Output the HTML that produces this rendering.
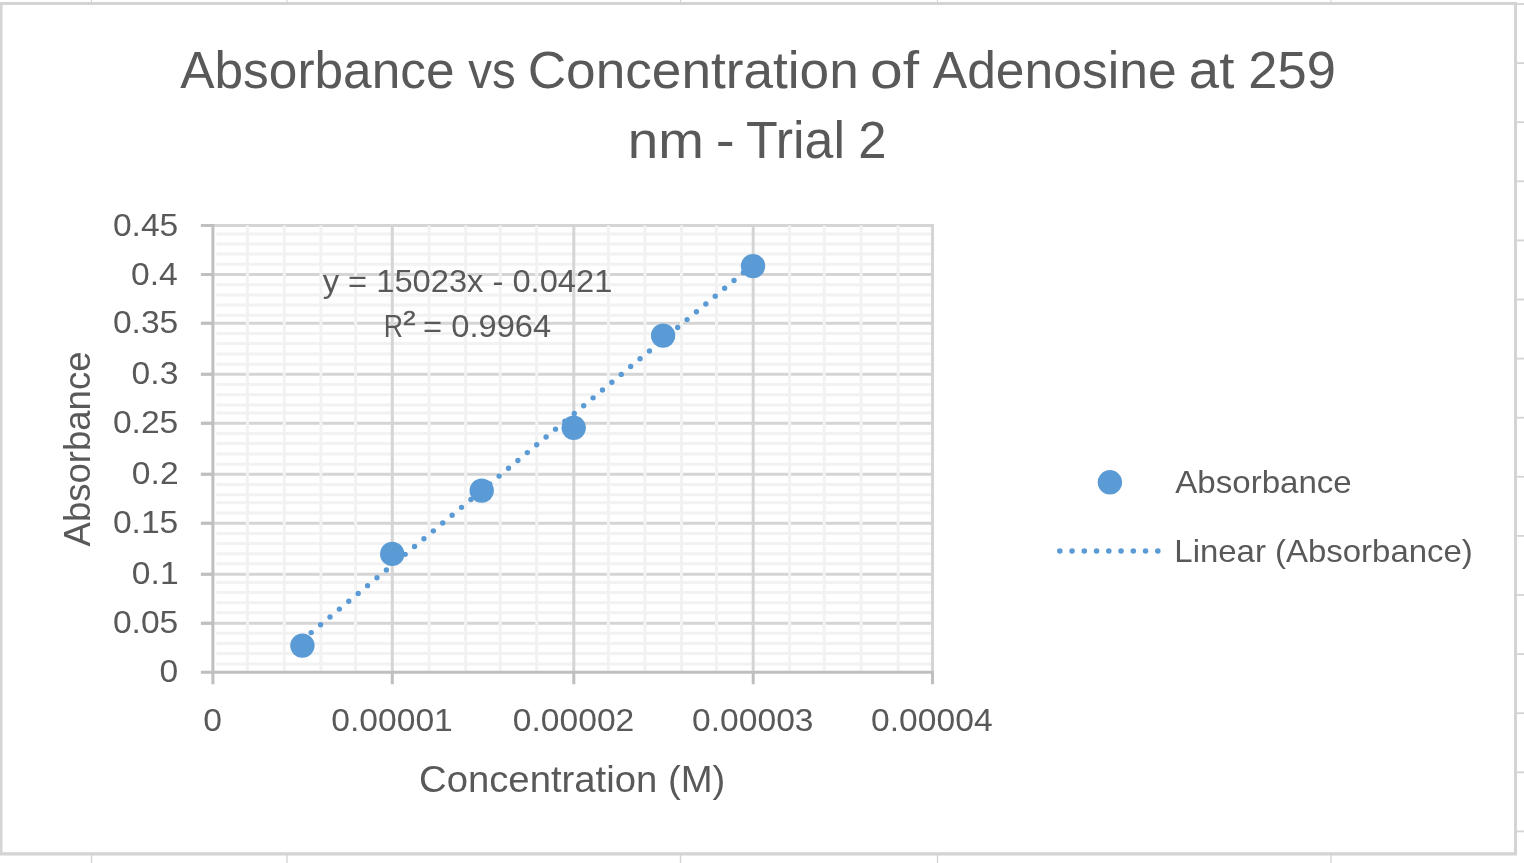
<!DOCTYPE html><html><head><meta charset="utf-8"><style>html,body{margin:0;padding:0;background:#fff;overflow:hidden}svg{display:block;will-change:transform}text{font-family:"Liberation Sans",sans-serif;fill:#595959}</style></head><body>
<svg width="1524" height="863" viewBox="0 0 1524 863">
<rect width="1524" height="863" fill="#fff"/>
<rect x="90.9" y="0" width="1.2" height="2" fill="#d4d4d4"/>
<rect x="90.8" y="855" width="1.4" height="8" fill="#d4d4d4"/>
<rect x="286.4" y="0" width="1.2" height="2" fill="#d4d4d4"/>
<rect x="286.3" y="855" width="1.4" height="8" fill="#d4d4d4"/>
<rect x="679.9" y="0" width="1.2" height="2" fill="#d4d4d4"/>
<rect x="679.8" y="855" width="1.4" height="8" fill="#d4d4d4"/>
<rect x="936.9" y="0" width="1.2" height="2" fill="#d4d4d4"/>
<rect x="936.8" y="855" width="1.4" height="8" fill="#d4d4d4"/>
<rect x="1330.4" y="0" width="1.2" height="2" fill="#d4d4d4"/>
<rect x="1330.3" y="855" width="1.4" height="8" fill="#d4d4d4"/>
<rect x="1517" y="3.1" width="7" height="1.8" fill="#d4d4d4"/>
<rect x="1517" y="62.2" width="7" height="1.8" fill="#d4d4d4"/>
<rect x="1517" y="121.3" width="7" height="1.8" fill="#d4d4d4"/>
<rect x="1517" y="180.4" width="7" height="1.8" fill="#d4d4d4"/>
<rect x="1517" y="239.5" width="7" height="1.8" fill="#d4d4d4"/>
<rect x="1517" y="298.6" width="7" height="1.8" fill="#d4d4d4"/>
<rect x="1517" y="357.7" width="7" height="1.8" fill="#d4d4d4"/>
<rect x="1517" y="416.8" width="7" height="1.8" fill="#d4d4d4"/>
<rect x="1517" y="475.9" width="7" height="1.8" fill="#d4d4d4"/>
<rect x="1517" y="535.0" width="7" height="1.8" fill="#d4d4d4"/>
<rect x="1517" y="594.1" width="7" height="1.8" fill="#d4d4d4"/>
<rect x="1517" y="653.2" width="7" height="1.8" fill="#d4d4d4"/>
<rect x="1517" y="712.3" width="7" height="1.8" fill="#d4d4d4"/>
<rect x="1517" y="771.4" width="7" height="1.8" fill="#d4d4d4"/>
<rect x="1517" y="830.5" width="7" height="1.8" fill="#d4d4d4"/>
<path d="M0 2H1517V855.5H0Z M2.5 5V852.2H1514V5Z" fill="#d4d4d4" fill-rule="evenodd"/>
<path d="M216.40 233.90H932.50M216.40 244.00H932.50M216.40 253.90H932.50M216.40 264.20H932.50M216.40 284.70H932.50M216.40 295.00H932.50M216.40 305.10H932.50M216.40 315.20H932.50M216.40 333.60H932.50M216.40 343.60H932.50M216.40 353.90H932.50M216.40 364.20H932.50M216.40 384.60H932.50M216.40 394.70H932.50M216.40 405.10H932.50M216.40 413.10H932.50M216.40 433.60H932.50M216.40 443.60H932.50M216.40 453.90H932.50M216.40 464.20H932.50M216.40 484.60H932.50M216.40 494.70H932.50M216.40 502.70H932.50M216.40 513.10H932.50M216.40 533.60H932.50M216.40 543.60H932.50M216.40 553.70H932.50M216.40 563.80H932.50M216.40 582.50H932.50M216.40 592.60H932.50M216.40 602.70H932.50M216.40 612.80H932.50M216.40 633.30H932.50M216.40 643.40H932.50M216.40 653.50H932.50M216.40 663.90H932.50" stroke="#f2f2f2" stroke-width="3" fill="none"/>
<path d="M200.90 623.30H934.00M200.90 574.30H934.00M200.90 523.20H934.00M200.90 474.30H934.00M200.90 423.30H934.00M200.90 374.30H934.00M200.90 323.30H934.00M200.90 274.55H934.00M200.90 225.40H934.00" stroke="#d5d5d5" stroke-width="3" fill="none"/>
<path d="M247.40 225.40V670.70M284.30 225.40V670.70M320.90 225.40V670.70M355.60 225.40V670.70M429.10 225.40V670.70M465.70 225.40V670.70M500.20 225.40V670.70M536.70 225.40V670.70M608.40 225.40V670.70M644.90 225.40V670.70M681.50 225.40V670.70M716.50 225.40V670.70M789.60 225.40V670.70M824.20 225.40V670.70M861.10 225.40V670.70M898.10 225.40V670.70" stroke="#f2f2f2" stroke-width="3" fill="none"/>
<path d="M392.30 223.90V672.20M573.80 223.90V672.20M753.20 223.90V672.20M932.50 223.90V672.20" stroke="#d5d5d5" stroke-width="3" fill="none"/>
<path d="M200.90 672.20H934.00M212.90 223.90V684.20M392.30 672.20V684.20M573.80 672.20V684.20M753.20 672.20V684.20M932.50 672.20V684.20M200.90 623.30H212.90M200.90 574.30H212.90M200.90 523.20H212.90M200.90 474.30H212.90M200.90 423.30H212.90M200.90 374.30H212.90M200.90 323.30H212.90M200.90 274.55H212.90M200.90 225.40H212.90" stroke="#bfbfbf" stroke-width="3" fill="none"/>
<line x1="301.80" y1="640.42" x2="752.81" y2="264.83" stroke="#5b9bd5" stroke-width="5.4" stroke-linecap="round" stroke-dasharray="0 12.2276"/>
<circle cx="302.4" cy="645.6" r="12.2" fill="#5b9bd5"/>
<circle cx="392.2" cy="553.9" r="12.2" fill="#5b9bd5"/>
<circle cx="481.7" cy="490.6" r="12.2" fill="#5b9bd5"/>
<circle cx="573.7" cy="427.8" r="12.2" fill="#5b9bd5"/>
<circle cx="663.1" cy="335.6" r="12.2" fill="#5b9bd5"/>
<circle cx="753.0" cy="266.1" r="12.2" fill="#5b9bd5"/>
<text transform="translate(159.54 682.30) scale(1.0850 1)" font-size="31">0</text>
<text transform="translate(112.89 633.40) scale(1.0850 1)" font-size="31">0.05</text>
<text transform="translate(131.87 584.40) scale(1.0850 1)" font-size="31">0.1</text>
<text transform="translate(112.89 533.30) scale(1.0850 1)" font-size="31">0.15</text>
<text transform="translate(131.87 484.40) scale(1.0850 1)" font-size="31">0.2</text>
<text transform="translate(112.89 433.40) scale(1.0850 1)" font-size="31">0.25</text>
<text transform="translate(131.60 384.40) scale(1.0850 1)" font-size="31">0.3</text>
<text transform="translate(112.89 333.40) scale(1.0850 1)" font-size="31">0.35</text>
<text transform="translate(131.06 284.65) scale(1.0850 1)" font-size="31">0.4</text>
<text transform="translate(112.89 235.50) scale(1.0850 1)" font-size="31">0.45</text>
<text transform="translate(203.24 731.30) scale(1.0850 1)" font-size="31">0</text>
<text transform="translate(331.28 731.30) scale(1.0850 1)" font-size="31">0.00001</text>
<text transform="translate(512.78 731.30) scale(1.0850 1)" font-size="31">0.00002</text>
<text transform="translate(692.04 731.30) scale(1.0850 1)" font-size="31">0.00003</text>
<text transform="translate(871.07 731.30) scale(1.0850 1)" font-size="31">0.00004</text>
<text transform="translate(180.26 88.30) scale(0.9791 1.0000)" font-size="52.5">Absorbance</text>
<text transform="translate(468.17 88.30) scale(0.9035 1.0000)" font-size="52.5">vs</text>
<text transform="translate(527.71 88.30) scale(1.0129 1.0000)" font-size="52.5">Concentration</text>
<text transform="translate(870.08 88.30) scale(1.1205 1.0000)" font-size="52.5">of</text>
<text transform="translate(932.75 88.30) scale(0.9833 1.0000)" font-size="52.5">Adenosine</text>
<text transform="translate(1188.87 88.30) scale(1.0376 1.0000)" font-size="52.5">at</text>
<text transform="translate(1248.36 88.30) scale(0.9982 1.0000)" font-size="52.5">259</text>
<text transform="translate(627.75 157.90) scale(1.0439 1.0000)" font-size="52.5">nm</text>
<text transform="translate(715.86 157.90) scale(1.0846 1.0000)" font-size="52.5">-</text>
<text transform="translate(746.07 157.90) scale(0.9879 1.0000)" font-size="52.5">Trial</text>
<text transform="translate(858.34 157.90) scale(0.9684 1.0000)" font-size="52.5">2</text>
<text transform="translate(322.64 292.20) scale(1.0543 1.0000)" font-size="31">y = 15023x - 0.0421</text>
<text transform="translate(383.75 337.00) scale(0.8603 1.0000)" font-size="31">R</text>
<text transform="translate(403.04 325.30) scale(1.1556 1.0000)" font-size="20" stroke="#595959" stroke-width="0.6">2</text>
<text transform="translate(423.12 337.00) scale(1.0541 1.0000)" font-size="31">= 0.9964</text>
<text transform="translate(419.05 792.30) scale(1.0234 1.0000)" font-size="37.4">Concentration (M)</text>
<text transform="translate(1175.30 492.50) scale(1.0336 1.0000)" font-size="32">Absorbance</text>
<text transform="translate(1174.32 561.80) scale(1.0301 1.0000)" font-size="32">Linear (Absorbance)</text>
<text transform="translate(90.1 546.40) rotate(-90) scale(0.9768 1)" font-size="37.4">Absorbance</text>
<circle cx="1109.9" cy="482.3" r="12.2" fill="#5b9bd5"/>
<line x1="1059.8" y1="551" x2="1158.1" y2="551" stroke="#5b9bd5" stroke-width="5.6" stroke-linecap="round" stroke-dasharray="0 12.25"/>
</svg></body></html>
